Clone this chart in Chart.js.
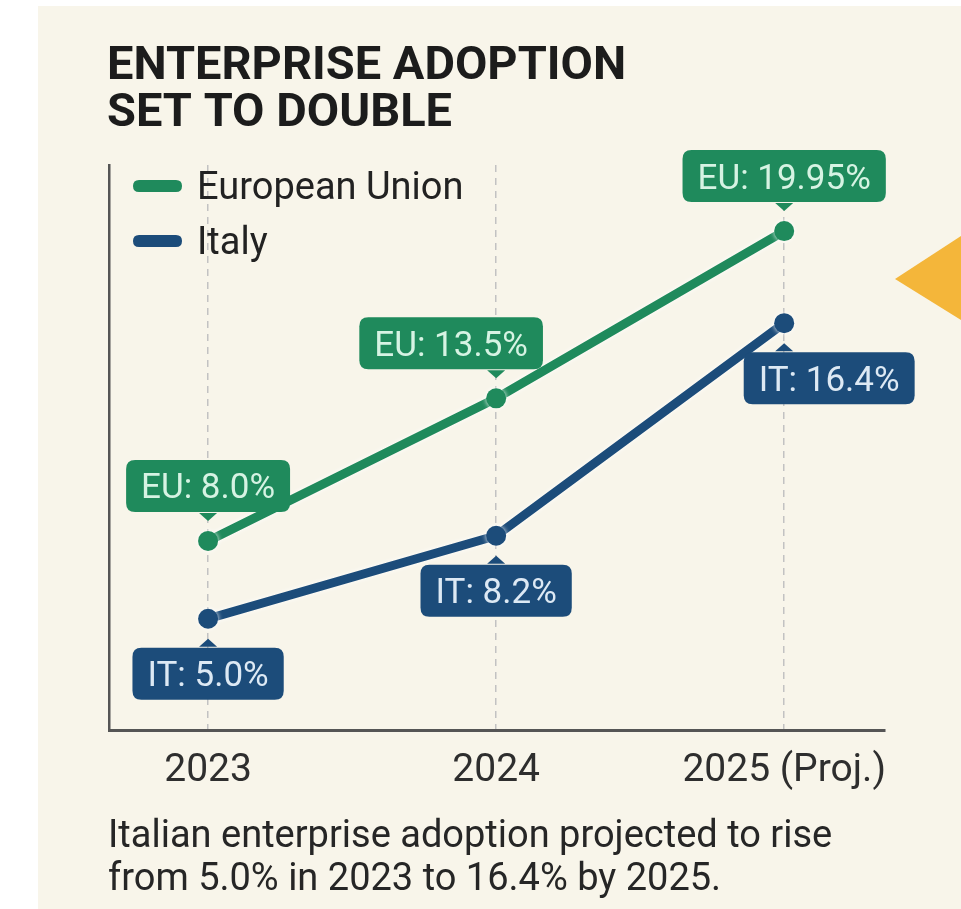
<!DOCTYPE html>
<html>
<head>
<meta charset="utf-8">
<script src="https://cdn.jsdelivr.net/npm/chart.js@4.4.1/dist/chart.umd.min.js"></script>
<style>
  html, body { margin: 0; padding: 0; background: #ffffff; }
  #wrap { position: relative; width: 961px; height: 909px; }
  canvas { display: block; }
</style>
</head>
<body>
<div id="wrap"><canvas id="c" width="961" height="909"></canvas></div>
<script>
// ---------- data ----------
const categories = ['2023', '2024', '2025 (Proj.)'];
const seriesNames = ['European Union', 'Italy'];
const seriesPrefixes = ['EU', 'IT'];
const euValues = [8.0, 13.5, 19.95];
const itValues = [5.0, 8.2, 16.4];
const titleLines = ['ENTERPRISE ADOPTION', 'SET TO DOUBLE'];
const captionLines = ['Italian enterprise adoption projected to rise', 'from 5.0% in 2023 to 16.4% by 2025.'];

// ---------- styles ----------
const COLORS = {
  bg: '#f8f5ea',
  eu: '#1f8a5c',
  it: '#1c4c7a',
  euText: '#d6f3e3',
  itText: '#dde9f4',
  ink: '#1c1c1c',
  axis: '#555555',
  grid: '#c2c2c2',
  deco: '#f4b63a'
};
const FONT = 'Roboto, "Liberation Sans", "DejaVu Sans", sans-serif';
// horizontal shift of value boxes (styling), per series/point
const boxShift = [[0, -45, 0], [0, 0, 45]];
// label placement: EU above, IT below
const labelSide = [-1, 1];

function fmt(v) {
  const t = v * 10;
  return Math.abs(t - Math.round(t)) < 1e-9 ? v.toFixed(1) : v.toFixed(2);
}

function roundRect(ctx, x, y, w, h, r) {
  ctx.beginPath();
  ctx.moveTo(x + r, y);
  ctx.lineTo(x + w - r, y);
  ctx.quadraticCurveTo(x + w, y, x + w, y + r);
  ctx.lineTo(x + w, y + h - r);
  ctx.quadraticCurveTo(x + w, y + h, x + w - r, y + h);
  ctx.lineTo(x + r, y + h);
  ctx.quadraticCurveTo(x, y + h, x, y + h - r);
  ctx.lineTo(x, y + r);
  ctx.quadraticCurveTo(x, y, x + r, y);
  ctx.closePath();
}

const decorPlugin = {
  id: 'decor',
  beforeDraw(chart) {
    const ctx = chart.ctx;
    ctx.save();
    ctx.fillStyle = '#ffffff';
    ctx.fillRect(0, 0, chart.width, chart.height);
    ctx.fillStyle = COLORS.bg;
    ctx.fillRect(38, 6, chart.width - 38, chart.height - 6);
    // partial yellow arrow at right edge
    ctx.fillStyle = COLORS.deco;
    ctx.beginPath();
    ctx.moveTo(895, 279);
    ctx.lineTo(961, 236);
    ctx.lineTo(961, 320);
    ctx.closePath();
    ctx.fill();
    // title
    ctx.fillStyle = COLORS.ink;
    ctx.textAlign = 'left';
    ctx.textBaseline = 'alphabetic';
    ctx.font = 'bold 47px ' + FONT;
    ctx.fillText(titleLines[0], 107, 79);
    ctx.fillText(titleLines[1], 107, 126);
    // caption
    ctx.fillStyle = '#262626';
    ctx.font = '38px ' + FONT;
    ctx.fillText(captionLines[0], 108, 847);
    ctx.fillText(captionLines[1], 108, 890);
    ctx.restore();
  },
  beforeDatasetDraw(chart) {
    const ctx = chart.ctx;
    ctx.shadowColor = 'rgba(255,255,255,0.95)';
    ctx.shadowBlur = 5;
  },
  afterDatasetDraw(chart) {
    const ctx = chart.ctx;
    ctx.shadowColor = 'rgba(0,0,0,0)';
    ctx.shadowBlur = 0;
  },
  afterDatasetsDraw(chart) {
    const ctx = chart.ctx;
    ctx.save();
    // legend
    const legendY = [186, 241];
    chart.data.datasets.forEach((ds, i) => {
      ctx.fillStyle = ds.borderColor;
      roundRect(ctx, 133, legendY[i] - 6, 49, 12, 6);
      ctx.fill();
      ctx.fillStyle = '#222222';
      ctx.font = '38px ' + FONT;
      ctx.textAlign = 'left';
      ctx.textBaseline = 'alphabetic';
      ctx.fillText(ds.label, 197, legendY[i] + 13);
    });
    // value boxes
    ctx.font = '35px ' + FONT;
    chart.data.datasets.forEach((ds, i) => {
      const meta = chart.getDatasetMeta(i);
      const bg = i === 0 ? COLORS.eu : COLORS.it;
      const fg = i === 0 ? COLORS.euText : COLORS.itText;
      meta.data.forEach((pt, j) => {
        const text = seriesPrefixes[i] + ': ' + fmt(ds.data[j].y) + '%';
        const tw = ctx.measureText(text).width;
        const w = tw + 30, h = 52;
        const cx = pt.x + boxShift[i][j];
        const side = labelSide[i];
        const tipY = pt.y + side * 20;
        const boxNear = tipY + side * 9;
        const top = side < 0 ? boxNear - h : boxNear;
        ctx.fillStyle = bg;
        roundRect(ctx, cx - w / 2, top, w, h, 9);
        ctx.fill();
        ctx.beginPath();
        ctx.moveTo(pt.x - 9, boxNear - side * 1);
        ctx.lineTo(pt.x, tipY);
        ctx.lineTo(pt.x + 9, boxNear - side * 1);
        ctx.closePath();
        ctx.fill();
        ctx.fillStyle = fg;
        ctx.textAlign = 'center';
        ctx.textBaseline = 'alphabetic';
        ctx.fillText(text, cx, top + h / 2 + 12.5);
      });
    });
    ctx.restore();
  }
};

const toPoints = arr => arr.map((v, i) => ({ x: i, y: v }));

new Chart(document.getElementById('c'), {
  type: 'line',
  data: {
    datasets: [
      {
        label: seriesNames[0],
        data: toPoints(euValues),
        borderColor: COLORS.eu,
        backgroundColor: COLORS.eu,
        borderWidth: 9,
        pointRadius: 10,
        pointBackgroundColor: COLORS.eu,
        pointBorderWidth: 0,
        tension: 0
      },
      {
        label: seriesNames[1],
        data: toPoints(itValues),
        borderColor: COLORS.it,
        backgroundColor: COLORS.it,
        borderWidth: 9,
        pointRadius: 10,
        pointBackgroundColor: COLORS.it,
        pointBorderWidth: 0,
        tension: 0
      }
    ]
  },
  options: {
    responsive: false,
    animation: false,
    devicePixelRatio: 1,
    layout: { padding: { left: 109, top: 165, right: 76, bottom: 96 } },
    plugins: {
      legend: { display: false },
      title: { display: false },
      tooltip: { enabled: false }
    },
    scales: {
      x: {
        type: 'linear',
        min: -0.344,
        max: 2.35,
        ticks: {
          stepSize: 1,
          includeBounds: false,
          padding: 18,
          color: '#2e2e2e',
          font: { family: FONT, size: 39 },
          callback: v => categories[v] !== undefined ? categories[v] : ''
        },
        grid: { display: true, color: COLORS.grid, lineWidth: 1.5, drawTicks: false },
        border: { display: true, color: COLORS.axis, width: 3, dash: [7, 6] }
      },
      y: {
        type: 'linear',
        min: 0.7,
        max: 22.5,
        ticks: { display: false },
        grid: { display: false, drawTicks: false },
        border: { display: true, color: COLORS.axis, width: 2.5 }
      }
    }
  },
  plugins: [decorPlugin]
});
</script>
</body>
</html>
